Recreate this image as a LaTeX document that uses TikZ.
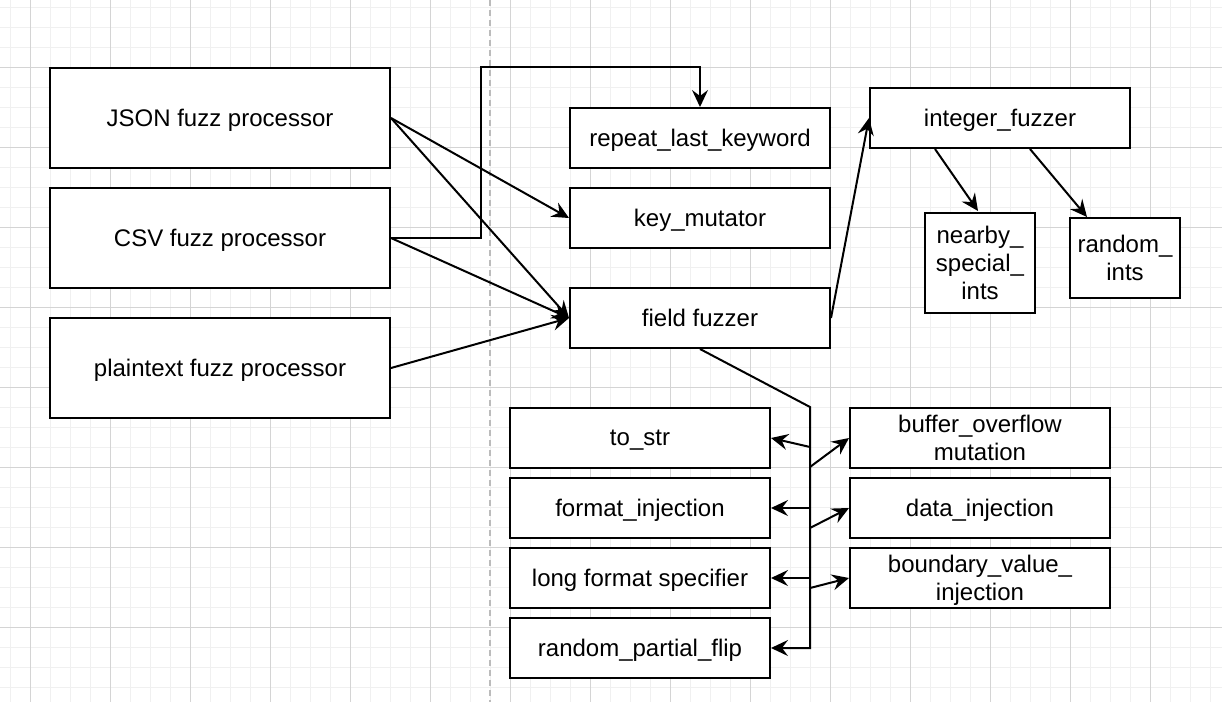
\documentclass[tikz,border=0pt]{standalone}
\usepackage{fontspec}
\setmainfont{Liberation Sans}
\usetikzlibrary{arrows.meta,calc}
\definecolor{gridminor}{HTML}{F0F0F0}
\definecolor{gridmajor}{HTML}{D4D4D4}
\definecolor{dashgray}{HTML}{BBBBBB}
\tikzset{
  bx/.style 2 args={draw, line width=1pt, fill=white, minimum width=#1*0.5pt,
    minimum height=#2*0.5pt, inner sep=0pt, align=center, text depth=0pt,
    font=\fontsize{12}{13.9}\selectfont},
  conn/.style={line width=1pt, -{Stealth[length=8.5pt,width=8pt,inset=3pt]}},
  minorline/.style={gridminor, line width=0.5pt},
  majorline/.style={gridmajor, line width=0.5pt},
}
\begin{document}
\begin{tikzpicture}[x=0.5pt,y=-0.5pt]
\useasboundingbox (0,0) rectangle (1222,702);
\fill[white] (0,0) rectangle (1222,702);
% grid
\foreach \gx in {10,30,...,1210} \draw[minorline] (\gx,0) -- (\gx,702);
\foreach \gy in {7,27,...,702} \draw[minorline] (0,\gy) -- (1222,\gy);
\foreach \gx in {30,110,...,1210} \draw[majorline] (\gx,0) -- (\gx,702);
\foreach \gy in {67,147,...,702} \draw[majorline] (0,\gy) -- (1222,\gy);
% dashed divider
\draw[dashgray, line width=1pt, dash pattern=on 3pt off 2pt] (490,0) -- (490,702);

% nodes
\node[bx={340}{100}] (json) at (220,118) {JSON fuzz processor};
\node[bx={340}{100}] (csv) at (220,238) {CSV fuzz processor};
\node[bx={340}{100}] (plain) at (220,368) {plaintext fuzz processor};
\node[bx={260}{60}] (rep) at (700,138) {repeat\_last\_keyword};
\node[bx={260}{60}] (key) at (700,218) {key\_mutator};
\node[bx={260}{60}] (field) at (700,318) {field fuzzer};
\node[bx={260}{60}] (int) at (1000,118) {integer\_fuzzer};
\node[bx={110}{100}] (nearby) at (980,263) {nearby\_\\special\_\\ints};
\node[bx={110}{80}] (rand) at (1125,258) {random\_\\ints};
\node[bx={260}{60}] (tostr) at (640,438) {to\_str};
\node[bx={260}{60}] (fmt) at (640,508) {format\_injection};
\node[bx={260}{60}] (long) at (640,578) {long format specifier};
\node[bx={260}{60}] (rpf) at (640,648) {random\_partial\_flip};
\node[bx={260}{60}] (buf) at (980,438) {buffer\_overflow\\mutation};
\node[bx={260}{60}] (data) at (980,508) {data\_injection};
\node[bx={260}{60}] (bnd) at (980,578) {boundary\_value\_\\injection};

% connectors from processors
\draw[conn] (json.east) -- (key.west);
\draw[conn] (json.east) -- (field.west);
\draw[conn] (csv.east) -- ++(90,0) |- ($(rep.north)+(0,-40)$) -- (rep.north);
\draw[conn] (csv.east) -- (field.west);
\draw[conn] (plain.east) -- (field.west);

% field fuzzer to integer fuzzer
\draw[conn] (field.east) -- (int.west);
\draw[conn] ($(int.south)+(-65,0)$) -- ($(nearby.north)+(-2,-1)$);
\draw[conn] ($(int.south)+(30,0)$) -- ($(rand.north west)+(18,0)$);

% bus
\coordinate (bustop) at (810,407);
\coordinate (busbot) at (810,648);
\coordinate (b1) at (810,447);
\coordinate (b2) at (810,467);
\coordinate (b3) at (810,508);
\coordinate (b4) at (810,528);
\coordinate (b5) at (810,578);
\coordinate (b6) at (810,588);
\draw[conn] (field.south) -- (bustop) -- (busbot) -- (rpf.east);
\draw[conn] (b1) -- (tostr.east);
\draw[conn] (b2) -- (buf.west);
\draw[conn] (b3) -- (fmt.east);
\draw[conn] (b4) -- (data.west);
\draw[conn] (b5) -- (long.east);
\draw[conn] (b6) -- (bnd.west);
\end{tikzpicture}
\end{document}
